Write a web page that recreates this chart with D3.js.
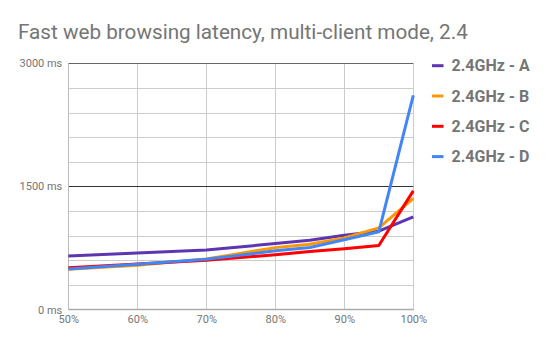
<!DOCTYPE html>
<html><head><meta charset="utf-8">
<script src="https://cdn.jsdelivr.net/npm/d3@7"></script>
<style>body{margin:0;background:#fff}svg{display:block;font-family:Roboto,sans-serif}</style>
</head><body><svg id="c" width="550" height="348"></svg>
<script>
const percentiles = [50, 60, 70, 80, 85, 90, 95, 100];
const seriesNames = ["2.4GHz - A", "2.4GHz - B", "2.4GHz - C", "2.4GHz - D"];
const seriesA = [651, 688, 724, 803, 844, 906, 955, 1130];
const seriesB = [490, 540, 615, 754, 795, 873, 995, 1353];
const seriesC = [510, 555, 600, 666, 706, 739, 779, 1446];
const seriesD = [493, 550, 611, 715, 755, 849, 947, 2610];
const colors = ["#5e35b1", "#ff9800", "#ff0000", "#4285f4"];
const yTicks = [0, 1500, 3000];
const xTicks = [50, 60, 70, 80, 90, 100];
const title = "Fast web browsing latency, multi-client mode, 2.4";

const svg = d3.select("#c");
const L = 68.3, R = 413.3, T = 63.3, B = 309.5;
const x = d3.scaleLinear().domain([50, 100]).range([L, R]);
const y = d3.scaleLinear().domain([0, 3000]).range([B, T]);

svg.append("text").attr("x", 18).attr("y", 38.5).attr("font-size", 20.7)
  .attr("fill", "#757575").text(title);

// minor horizontal gridlines
const g = svg.append("g");
g.selectAll("line.h").data(d3.range(300, 3000, 300).filter(v => v !== 1500)).join("line")
  .attr("x1", L).attr("x2", R).attr("y1", d => Math.round(y(d)) + 0.5).attr("y2", d => Math.round(y(d)) + 0.5)
  .attr("stroke", "#cccccc").attr("stroke-width", 1);
g.selectAll("line.v").data(xTicks).join("line")
  .attr("x1", d => Math.round(x(d)) + 0.5).attr("x2", d => Math.round(x(d)) + 0.5).attr("y1", T).attr("y2", B)
  .attr("stroke", "#cccccc").attr("stroke-width", 1);
// major lines
g.append("line").attr("x1", L).attr("x2", R).attr("y1", Math.round(y(1500)) + 0.5).attr("y2", Math.round(y(1500)) + 0.5)
  .attr("stroke", "#333333");
g.append("line").attr("x1", L).attr("x2", R).attr("y1", Math.round(y(3000)) + 0.5).attr("y2", Math.round(y(3000)) + 0.5)
  .attr("stroke", "#666666");
g.append("line").attr("x1", Math.round(L) + 0.5).attr("x2", Math.round(L) + 0.5).attr("y1", T).attr("y2", B)
  .attr("stroke", "#bbbbbb");
g.append("line").attr("x1", L).attr("x2", R + 0.5).attr("y1", y(0)).attr("y2", y(0))
  .attr("stroke", "#aaaaaa").attr("stroke-width", 1.5);

// axes labels
const yAxis = d3.axisLeft(y).tickValues(yTicks).tickSize(0).tickPadding(6).tickFormat(d => d + " ms");
const ya = svg.append("g").attr("transform", `translate(${L},0)`).call(yAxis);
ya.select(".domain").remove();
ya.selectAll("text").attr("font-size", 11).attr("fill", "#757575").attr("font-family", "Roboto,sans-serif");
const xAxis = d3.axisBottom(x).tickValues(xTicks).tickSize(0).tickPadding(6).tickFormat(d => d + "%");
const xa = svg.append("g").attr("transform", `translate(0,${B})`).call(xAxis);
xa.select(".domain").remove();
xa.selectAll("text").attr("font-size", 11).attr("fill", "#757575").attr("font-family", "Roboto,sans-serif");

const all = [seriesA, seriesB, seriesC, seriesD];
const line = d3.line().x((d, i) => x(percentiles[i])).y(d => y(d));
all.forEach((s, k) => {
  svg.append("path").datum(s).attr("d", line).attr("fill", "none")
    .attr("stroke", colors[k]).attr("stroke-width", 3).attr("stroke-linejoin", "round");
});

// legend
const lg = svg.append("g");
seriesNames.forEach((n, k) => {
  const cy = 65.7 + k * 30.3;
  lg.append("line").attr("x1", 432).attr("x2", 443.5).attr("y1", cy).attr("y2", cy)
    .attr("stroke", colors[k]).attr("stroke-width", 3);
  lg.append("text").attr("x", 451.5).attr("y", cy).attr("dy", "0.36em").attr("font-size", 16)
    .attr("font-weight", "bold").attr("fill", "#757575").text(n);
});
</script></body></html>
